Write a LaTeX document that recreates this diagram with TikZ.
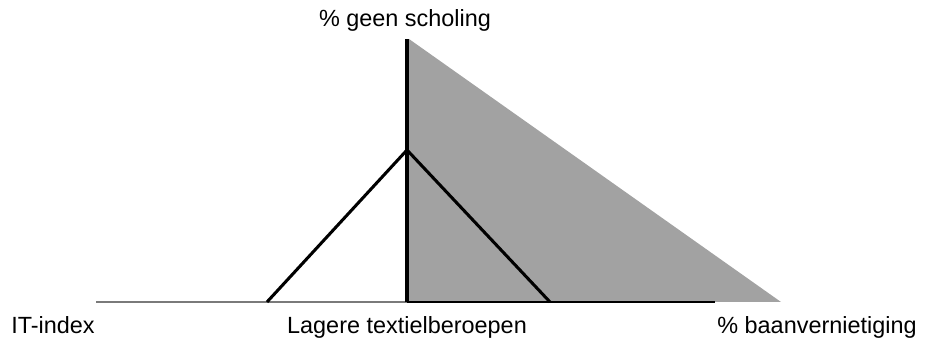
\documentclass[tikz,border=0pt]{standalone}
\usepackage{fontspec}
\setmainfont{Liberation Sans}
\definecolor{ShadeGray}{HTML}{A2A2A2}
\definecolor{AxisGray}{HTML}{7A7A7A}
\usetikzlibrary{positioning}
\tikzset{
  axislabel/.style={font=\fontsize{20}{24}\selectfont,inner sep=0pt,anchor=base},
  axisline/.style={black,line width=2.6pt},
  baseline/.style={line width=2pt},
  trianglepath/.style={black,line width=2.6pt,line join=miter},
}
\begin{document}
\begin{tikzpicture}[x=0.03cm,y=-0.03cm]
  \useasboundingbox (0,0) rectangle (926,347);
  % axes points
  \coordinate (top)   at (407,39);
  \coordinate (orig)  at (407,302);
  \coordinate (left)  at (96,302);
  \coordinate (right) at (715,302);
  \coordinate (shend) at (781,302);
  % shaded area
  \fill[ShadeGray] (409,39) -- (shend) -- (409,302) -- cycle;
  % base line
  \draw[baseline,AxisGray] (left) -- (orig);
  \draw[baseline,black] (orig) -- (right);
  % vertical axis
  \draw[axisline] (orig) -- (top);
  % triangle
  \coordinate (tl) at (267,302);
  \coordinate (tt) at (407,150);
  \coordinate (tr) at (550,302);
  \draw[trianglepath] (tl) -- (tt) -- (tr);
  % labels
  \node[axislabel](ylab)  at (405,27)  {\% geen scholing};
  \node[axislabel](itlab) at (53,333)  {IT-index};
  \node[axislabel](lglab) at (407,333) {Lagere textielberoepen};
  \node[axislabel](bvlab) at (817,333) {\% baanvernietiging};
\end{tikzpicture}
\end{document}
